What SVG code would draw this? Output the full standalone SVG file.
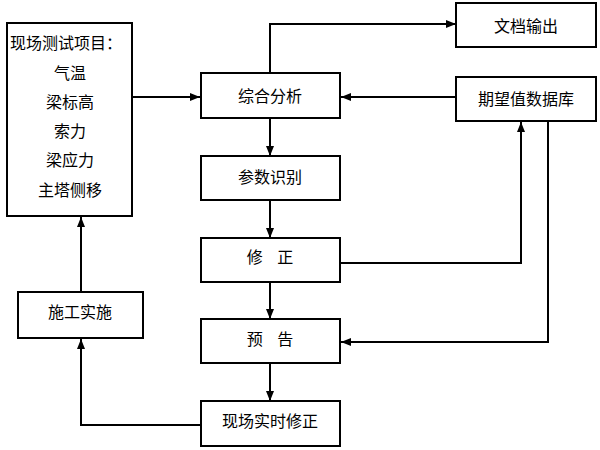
<svg xmlns="http://www.w3.org/2000/svg" width="600" height="450" viewBox="0 0 600 450">
<style>
.box{fill:#fff;stroke:#000;stroke-width:2}
.t{font-family:"Noto Sans CJK SC","Noto Sans",sans-serif;font-size:16px;fill:#000;text-anchor:middle;dominant-baseline:central}
.c{fill:none;stroke:#000;stroke-width:2}
</style>
<defs>
<marker id="a" viewBox="0 0 10 8" refX="10" refY="4" markerWidth="10" markerHeight="8" markerUnits="userSpaceOnUse" orient="auto">
<path d="M0,0 L10,4 L0,8 Z" fill="#000"/>
</marker>
</defs>
<g id="connectors">
<path class="c" d="M132,97 H200" marker-end="url(#a)"/>
<path class="c" d="M270,73 V24 H456" marker-end="url(#a)"/>
<path class="c" d="M456,97 H341" marker-end="url(#a)"/>
<path class="c" d="M270,118 V156" marker-end="url(#a)"/>
<path class="c" d="M270,200 V238" marker-end="url(#a)"/>
<path class="c" d="M340,263 H521 V122" marker-end="url(#a)"/>
<path class="c" d="M548,121 V342 H341" marker-end="url(#a)"/>
<path class="c" d="M270,282 V319" marker-end="url(#a)"/>
<path class="c" d="M270,363 V401" marker-end="url(#a)"/>
<path class="c" d="M201,425 H81 V339" marker-end="url(#a)"/>
<path class="c" d="M81,292 V217" marker-end="url(#a)"/>
</g>
<g id="items">
<rect class="box" x="7" y="23" width="125" height="193"/>
<text class="t" x="10" y="42" style="text-anchor:start">现场测试项目：</text>
<text class="t" x="70" y="72">气温</text>
<text class="t" x="70" y="101">梁标高</text>
<text class="t" x="70" y="130">索力</text>
<text class="t" x="70" y="159">梁应力</text>
<text class="t" x="70" y="189">主塔侧移</text>
</g>
<g id="analysis">
<rect class="box" x="201" y="73" width="139" height="45"/>
<text class="t" x="270" y="95">综合分析</text>
</g>
<g id="doc">
<rect class="box" x="456" y="3" width="140" height="44"/>
<text class="t" x="526" y="25">文档输出</text>
</g>
<g id="db">
<rect class="box" x="456" y="77" width="140" height="44"/>
<text class="t" x="526" y="98">期望值数据库</text>
</g>
<g id="ident">
<rect class="box" x="201" y="156" width="139" height="44"/>
<text class="t" x="270" y="176">参数识别</text>
</g>
<g id="correct">
<rect class="box" x="201" y="238" width="139" height="44"/>
<text class="t" x="270" y="256" xml:space="preserve">修    正</text>
</g>
<g id="forecast">
<rect class="box" x="201" y="319" width="139" height="44"/>
<text class="t" x="270" y="338" xml:space="preserve">预    告</text>
</g>
<g id="realtime">
<rect class="box" x="201" y="401" width="139" height="45"/>
<text class="t" x="270" y="420">现场实时修正</text>
</g>
<g id="construct">
<rect class="box" x="18" y="292" width="125" height="46"/>
<text class="t" x="80" y="311">施工实施</text>
</g>
</svg>
